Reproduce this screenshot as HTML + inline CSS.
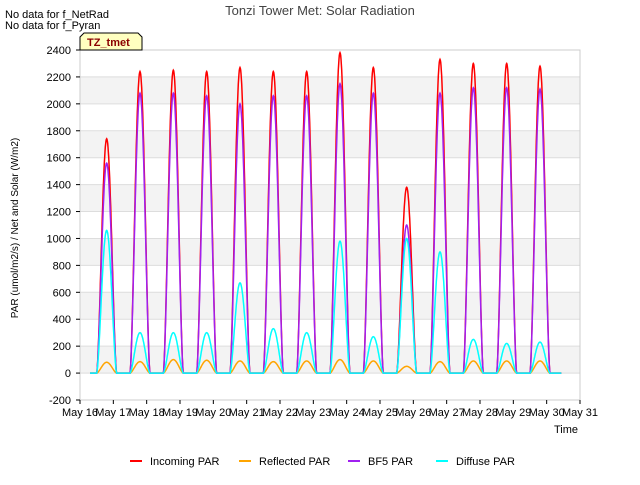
<!DOCTYPE html>
<html><head><meta charset="utf-8"><style>
body{margin:0;background:#fff;font-family:"Liberation Sans",sans-serif}
svg text{font-family:"Liberation Sans",sans-serif}
</style></head><body>
<svg width="640" height="480" xmlns="http://www.w3.org/2000/svg">
<text x="320" y="15" text-anchor="middle" font-size="13" fill="#444">Tonzi Tower Met: Solar Radiation</text>
<text x="5" y="18" font-size="11">No data for f_NetRad</text>
<text x="5" y="29" font-size="11">No data for f_Pyran</text>
<g id="bands"></g>
<rect x="80" y="50" width="500" height="350" fill="none" stroke="#ccc"/>
<g id="axes"></g>
<g id="series"></g>
<g>
<path d="M80,50 L80,37 L84,33 L138,33 L142,37 L142,50 Z" fill="#ffffc0" stroke="#000"/>
<text x="87" y="46" font-size="11" font-weight="bold" fill="#8b0000">TZ_tmet</text></g>
<text x="18" y="228" font-size="10" transform="rotate(-90 18 228)" text-anchor="middle">PAR (umol/m2/s) / Net and Solar (W/m2)</text>
<text x="566" y="433" font-size="11" text-anchor="middle">Time</text>
<g id="legend"></g>
</svg>
<script>
const days=[16,17,18,19,20,21,22,23,24,25,26,27,28,29];
const incoming=[1740,2240,2250,2240,2270,2240,2240,2380,2270,1380,2330,2300,2300,2280];
const bf5=[1560,2080,2080,2060,2000,2060,2060,2150,2080,1100,2080,2120,2120,2110];
const diffuse=[1060,300,300,300,670,330,300,980,270,1000,900,250,220,230];
const reflected=[80,85,100,95,90,85,90,100,90,50,85,90,90,90];
const yTicks=[-200,0,200,400,600,800,1000,1200,1400,1600,1800,2000,2200,2400];
const xTicks=["May 16","May 17","May 18","May 19","May 20","May 21","May 22","May 23","May 24","May 25","May 26","May 27","May 28","May 29","May 30","May 31"];
const NS="http://www.w3.org/2000/svg";
const X=d=>80+(d-16)*33.333, Y=v=>400-(v+200)*350/2600;
function mk(t,a,p){const e=document.createElementNS(NS,t);for(const k in a)e.setAttribute(k,a[k]);p.appendChild(e);return e;}
const bands=document.getElementById('bands'),axes=document.getElementById('axes');
for(let i=0;i<yTicks.length-1;i++){const lo=yTicks[i],hi=yTicks[i+1];
 const r=mk('rect',{x:80,y:Y(hi),width:500,height:Y(lo)-Y(hi),fill:(i%2==1)?'#f3f3f3':'#fff'},bands);
 }
yTicks.forEach(v=>{mk('line',{x1:80,x2:580,y1:Y(v),y2:Y(v),stroke:'#ddd'},bands);
 mk('line',{x1:76,x2:80,y1:Y(v),y2:Y(v),stroke:'#000'},axes);
 const t=mk('text',{x:71,y:Y(v)+4,'font-size':11,'text-anchor':'end'},axes);t.textContent=v;
 });
xTicks.forEach((s,i)=>{mk('line',{x1:X(16+i),x2:X(16+i),y1:400,y2:404,stroke:'#000'},axes);
 const t=mk('text',{x:X(16+i),y:416,'font-size':11,'text-anchor':'middle'},axes);t.textContent=s;
 });
const ser=document.getElementById('series');
function draw(vals,color,name){let d='';
 const start=16.3,end=30.45;
 for(let t=start;t<=end;t+=0.01){let v=0;
  days.forEach((dd,i)=>{const c=dd+0.8,u=(t-c)/0.3;if(Math.abs(u)<1){v=vals[i]*Math.pow(Math.cos(u*Math.PI/2),1.6);}});
  d+=(d?'L':'M')+X(t).toFixed(1)+','+Y(v).toFixed(1);}
 const p=mk('path',{d:d,fill:'none',stroke:color,'stroke-width':1.5},ser);
 }
draw(incoming,'#ff0000','incoming-par-line');
draw(reflected,'#ffa500','reflected-par-line');
draw(bf5,'#a020f0','bf5-par-line');
draw(diffuse,'#00ffff','diffuse-par-line');
const lg=document.getElementById('legend');
[["Incoming PAR","#ff0000",130],["Reflected PAR","#ffa500",239],["BF5 PAR","#a020f0",348],["Diffuse PAR","#00ffff",436]].forEach(([n,c,x])=>{
 const g=mk('g',{},lg);
 mk('line',{x1:x,x2:x+12,y1:461,y2:461,stroke:c,'stroke-width':2},g);
 const t=mk('text',{x:x+20,y:465,'font-size':11},g);t.textContent=n;});
</script>
</body></html>
